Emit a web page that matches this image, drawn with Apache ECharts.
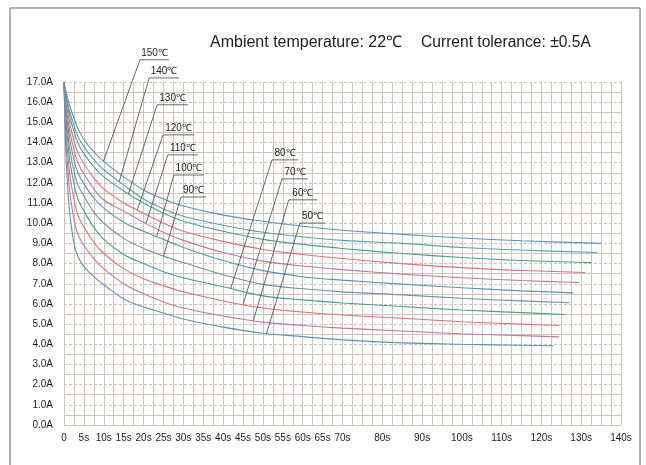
<!DOCTYPE html>
<html>
<head>
<meta charset="utf-8">
<script src="https://cdn.jsdelivr.net/npm/echarts@6/dist/echarts.min.js"></script>
<style>
html,body{margin:0;padding:0;background:#fff;}
#chart{width:646px;height:465px;}
</style>
</head>
<body>
<div id="chart"></div>
<script>
// ---- data ----
const titleLeft = 'Ambient temperature: 22\u2103';
const titleRight = 'Current tolerance: \u00b10.5A';
const temps = ['150\u2103','140\u2103','130\u2103','120\u2103','110\u2103','100\u2103','90\u2103','80\u2103','70\u2103','60\u2103','50\u2103'];
const times = [0, 0.5, 1, 1.5, 2.5, 3.5, 5, 7.5, 10, 15, 20, 25, 30, 40, 50, 60, 70, 85, 100, 115];
const endTimes = [135, 134, 132.5, 131, 129.5, 128, 127, 126, 124.5, 124.5, 123];
const c150 = [17, 16.55, 16.15, 15.8, 15.2, 14.7, 14.15, 13.55, 13.05, 12.3, 11.65, 11.2, 10.85, 10.4, 10.1, 9.85, 9.65, 9.45, 9.27, 9.13, 9.0];
const c140 = [17, 16.4, 15.9, 15.5, 14.85, 14.3, 13.8, 13.15, 12.65, 11.9, 11.2, 10.7, 10.35, 9.9, 9.55, 9.32, 9.15, 9.0, 8.8, 8.67, 8.55];
const c130 = [17, 16.25, 15.7, 15.25, 14.55, 13.98, 13.45, 12.8, 12.3, 11.6, 11.0, 10.5, 10.1, 9.6, 9.2, 8.95, 8.75, 8.5, 8.3, 8.15, 8.05];
const c120 = [17, 16.05, 15.4, 14.9, 14.1, 13.5, 12.95, 12.25, 11.7, 11.0, 10.5, 10.0, 9.6, 9.1, 8.7, 8.45, 8.25, 8.0, 7.8, 7.66, 7.56];
const c110 = [17, 15.85, 15.1, 14.5, 13.65, 13.0, 12.45, 11.7, 11.15, 10.6, 10.05, 9.55, 9.15, 8.55, 8.12, 7.88, 7.7, 7.48, 7.3, 7.16, 7.06];
const c100 = [17, 15.6, 14.75, 14.1, 13.15, 12.5, 11.95, 11.25, 10.75, 10.05, 9.6, 9.2, 8.8, 8.15, 7.65, 7.35, 7.18, 6.98, 6.8, 6.65, 6.55];
const c90  = [17, 15.3, 14.35, 13.6, 12.6, 11.9, 11.35, 10.55, 10.0, 9.25, 8.75, 8.37, 8.05, 7.45, 6.97, 6.75, 6.6, 6.45, 6.28, 6.15, 6.06];
const c80  = [17, 15.0, 13.9, 13.05, 11.95, 11.2, 10.6, 9.8, 9.2, 8.45, 8.0, 7.6, 7.3, 6.85, 6.4, 6.2, 6.05, 5.87, 5.7, 5.57, 5.48];
const c70  = [17, 14.6, 13.3, 12.35, 11.2, 10.4, 9.8, 9.05, 8.5, 7.75, 7.25, 6.9, 6.6, 6.15, 5.8, 5.6, 5.45, 5.29, 5.12, 5.0, 4.93];
const c60  = [17, 14.1, 12.6, 11.5, 10.2, 9.45, 8.9, 8.25, 7.75, 7.0, 6.5, 6.1, 5.8, 5.4, 5.1, 4.93, 4.8, 4.66, 4.52, 4.43, 4.37];
const c50  = [17, 13.4, 11.6, 10.4, 9.0, 8.35, 7.85, 7.35, 6.95, 6.25, 5.85, 5.55, 5.25, 4.85, 4.55, 4.38, 4.22, 4.07, 4.0, 3.95, 3.93];
const curves = [c150, c140, c130, c120, c110, c100, c90, c80, c70, c60, c50];
// callouts: where each label's leader meets its curve (time, s), and the label's underline (time/current)
const pointerT = [9.9, 13.9, 16.2, 18.4, 20.6, 23.3, 25.0, 41.9, 45.0, 47.6, 50.9];
const underStartT = [19.1, 21.4, 23.4, 24.9, 26.1, 27.6, 29.4, 52.3, 54.8, 56.5, 59.3];
const underEndT   = [26.4, 28.9, 31.2, 32.7, 33.7, 35.2, 35.7, 58.8, 61.3, 63.6, 65.6];
const underA      = [18.1, 17.2, 15.87, 14.38, 13.39, 12.39, 11.30, 13.14, 12.20, 11.16, 10.01];
const yTicks = [0,1,2,3,4,5,6,7,8,9,10,11,12,13,14,15,16,17];

const colors = ['#5a97b6','#5aa2ae','#4ca288','#de7375','#bf7c99','#5a93b0','#7394a1','#4ca288','#de7375','#bf7c99','#5a96b2'];

function seriesData(i){
  return curves[i].map((v, k) => [k < times.length ? times[k] : endTimes[i], v]);
}
function valueAt(i, t){
  const d = seriesData(i);
  for (let k = 1; k < d.length; k++){
    if (t <= d[k][0]){
      const f = (t - d[k-1][0]) / (d[k][0] - d[k-1][0]);
      return d[k-1][1] + f * (d[k][1] - d[k-1][1]);
    }
  }
  return d[d.length-1][1];
}

const chart = echarts.init(document.getElementById('chart'), null, {renderer:'canvas'});
const gridColor = '#d2c2bd';
const labelFont = 'Liberation Sans, Arial, sans-serif';
const option = {
  animation: false,
  backgroundColor: '#fff',
  grid: {left: 64, right: 25, top: 82, bottom: 40, containLabel: false},
  xAxis: {
    type: 'value', min: 0, max: 140, interval: 2.5,
    axisLine: {show: true, lineStyle: {color: gridColor, width: 1}},
    axisTick: {show: false},
    splitLine: {show: true, lineStyle: {color: gridColor, width: 1}},
    axisLabel: {
      margin: 8, fontSize: 10, color: '#1e1e1e', fontFamily: labelFont,
      formatter: function(v){
        if (v === 0) return '0';
        if (v <= 70 && v % 5 === 0) return v + 's';
        if (v > 70 && v % 10 === 0) return v + 's';
        return '';
      }
    }
  },
  yAxis: {
    type: 'value', min: 0, max: 17, interval: 1,
    axisLine: {show: true, lineStyle: {color: gridColor, width: 1}},
    axisTick: {show: false},
    splitLine: {show: true, lineStyle: {color: gridColor, width: 1, type: [3, 2]}},
    minorTick: {show: false, splitNumber: 2},
    minorSplitLine: {show: true, lineStyle: {color: gridColor, width: 1}},
    axisLabel: {
      margin: 11, fontSize: 10, color: '#1e1e1e', fontFamily: labelFont,
      formatter: function(v){ return yTicks.indexOf(v) >= 0 ? v.toFixed(1) + 'A' : ''; }
    }
  },
  series: curves.map((c, i) => ({
    type: 'line', name: temps[i], data: seriesData(i), smooth: 0.35,
    showSymbol: false, symbol: 'none',
    lineStyle: {color: colors[i], width: 1.1}, z: 3
  }))
};
chart.setOption(option);

// annotations built from data coordinates through the chart's own scales
const g = [];
g.push({type:'rect', shape:{x:10, y:8, width:630, height:470}, style:{fill:'none', stroke:'#666', lineWidth:1}, silent:true});
g.push({type:'text', left: 210, top: 35, style:{text: titleLeft, font: '16px "Liberation Sans", Arial, sans-serif', fill:'#222'}});
g.push({type:'text', left: 421, top: 35, style:{text: titleRight, font: '15.6px "Liberation Sans", Arial, sans-serif', fill:'#222'}});
for (let i = 0; i < temps.length; i++){
  const pEnd = chart.convertToPixel({gridIndex:0}, [pointerT[i], valueAt(i, pointerT[i])]);
  const pA = chart.convertToPixel({gridIndex:0}, [underStartT[i], underA[i]]);
  const pB = chart.convertToPixel({gridIndex:0}, [underEndT[i], underA[i]]);
  g.push({type:'line', shape:{x1:pA[0], y1:pA[1], x2:pEnd[0], y2:pEnd[1]}, style:{stroke:'#5a5a5a', lineWidth:0.9}, z:10});
  g.push({type:'line', shape:{x1:pA[0], y1:pA[1], x2:pB[0], y2:pB[1]}, style:{stroke:'#5a5a5a', lineWidth:0.9}, z:10});
  g.push({type:'text', x:(pA[0]+pB[0])/2, y:pA[1]-2, style:{text:temps[i], font:'10px "Liberation Sans", Arial, sans-serif', fill:'#222', textAlign:'center', textVerticalAlign:'bottom'}, z:11});
}
chart.setOption({graphic: g});
</script>
</body>
</html>
